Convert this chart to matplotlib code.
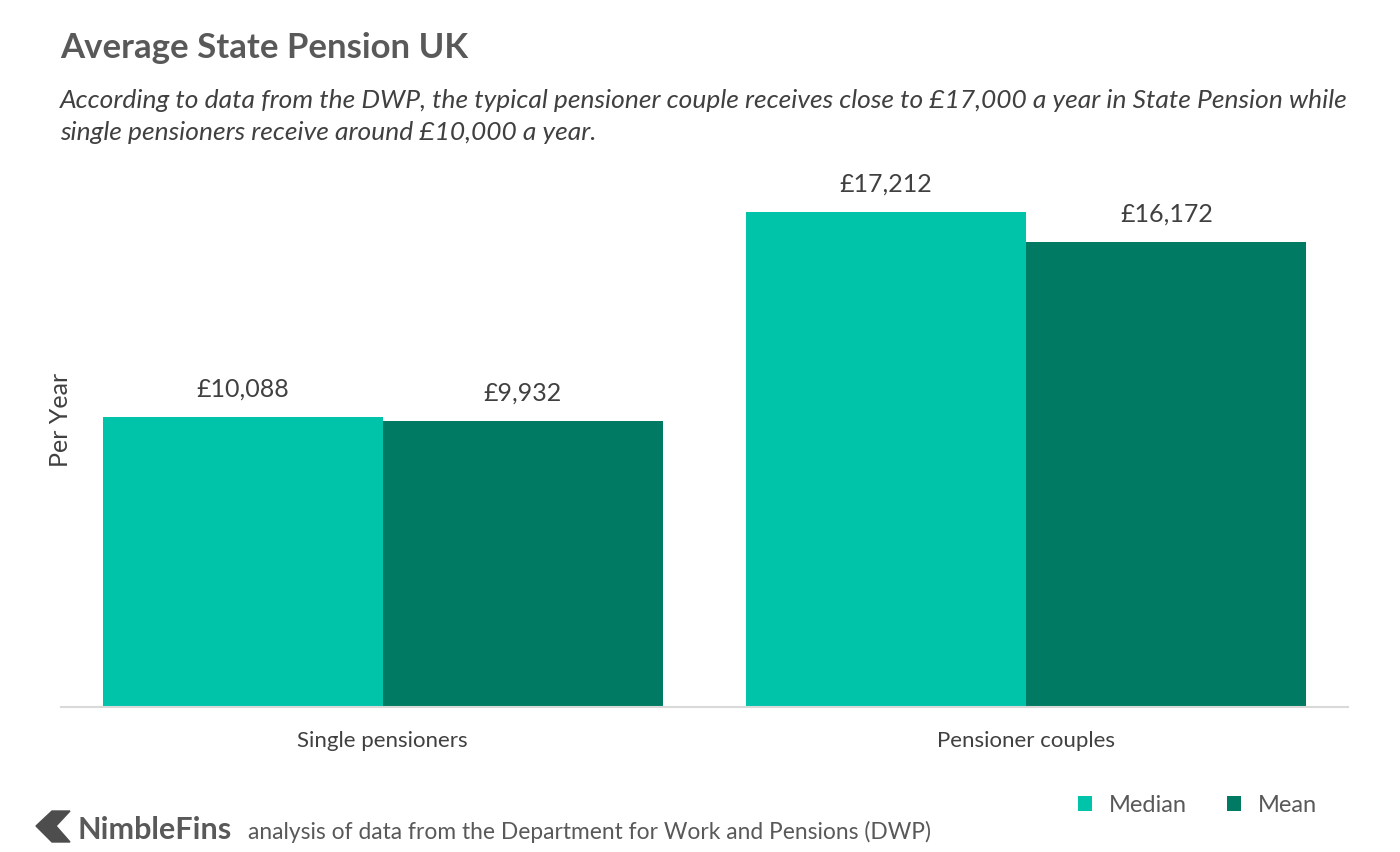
import matplotlib
matplotlib.use("Agg")
import matplotlib.pyplot as plt
import numpy as np
from matplotlib.patches import Polygon

categories = ["Single pensioners", "Pensioner couples"]
series_names = ["Median", "Mean"]
median_vals = [10088, 17212]
mean_vals = [9932, 16172]
colors = ["#00C4AA", "#007A62"]

plt.rcParams['font.family'] = ['Lato', 'DejaVu Sans']

fig = plt.figure(figsize=(14, 8.52), dpi=100)
ax = fig.add_axes([61/1400, 1 - 707/852, 1287/1400, 575/852])

x = np.arange(len(categories))
w = 280/643
b1 = ax.bar(x - w/2, median_vals, w, color=colors[0], label=series_names[0])
b2 = ax.bar(x + w/2, mean_vals, w, color=colors[1], label=series_names[1])

for bars, vals in ((b1, median_vals), (b2, mean_vals)):
    for r, v in zip(bars, vals):
        ax.annotate(f"£{v:,}", (r.get_x() + r.get_width()/2, v), xytext=(0, 12),
                    textcoords="offset points", ha="center", va="bottom",
                    fontsize=18, color="#404040")

ax.set_xlim(-0.5, 1.5)
ax.set_ylim(0, 20000)
for s in ["top", "right", "left"]:
    ax.spines[s].set_visible(False)
ax.spines["bottom"].set_color("#D9D9D9")
ax.spines["bottom"].set_linewidth(1.5)
ax.set_yticks([])
ax.set_xticks(x)
ax.set_xticklabels(categories, fontsize=16, color="#404040")
ax.tick_params(axis="x", length=0, pad=17)
ax.set_ylabel("Per Year", fontsize=18, color="#404040", labelpad=-8)

fig.text(60/1400, 1 - 48/852, "Average State Pension UK", fontsize=25, fontweight="bold",
         color="#595959", va="center", ha="left")
fig.text(60/1400, 1 - 100/852,
         "According to data from the DWP, the typical pensioner couple receives close to £17,000 a year in State Pension while",
         fontsize=19, style="italic", color="#404040", va="center", ha="left")
fig.text(60/1400, 1 - 132/852,
         "single pensioners receive around £10,000 a year.",
         fontsize=19, style="italic", color="#404040", va="center", ha="left")

leg = fig.legend(handles=[b1, b2], labels=series_names, loc="center right",
                 bbox_to_anchor=(1338/1400, 1 - 805/852), ncol=2, frameon=False,
                 fontsize=17, handlelength=0.6, handleheight=0.6, columnspacing=1.7,
                 handletextpad=0.7)
for t in leg.get_texts():
    t.set_color("#595959")

# logo chevron
pts = [(36, 826), (52, 811), (70, 811), (56, 826), (70, 842), (52, 842)]
poly = Polygon([(px/1400, 1 - py/852) for px, py in pts], closed=True,
               transform=fig.transFigure, color="#4D4D4D")
fig.patches.append(poly)
fig.text(78/1400, 1 - 830/852, "NimbleFins", fontsize=22, fontweight="bold",
         color="#595959", va="center", ha="left")
fig.text(248/1400, 1 - 832/852, "analysis of data from the Department for Work and Pensions (DWP)",
         fontsize=16.4, color="#595959", va="center", ha="left")

fig.savefig("out.png", dpi=100, facecolor="white")
